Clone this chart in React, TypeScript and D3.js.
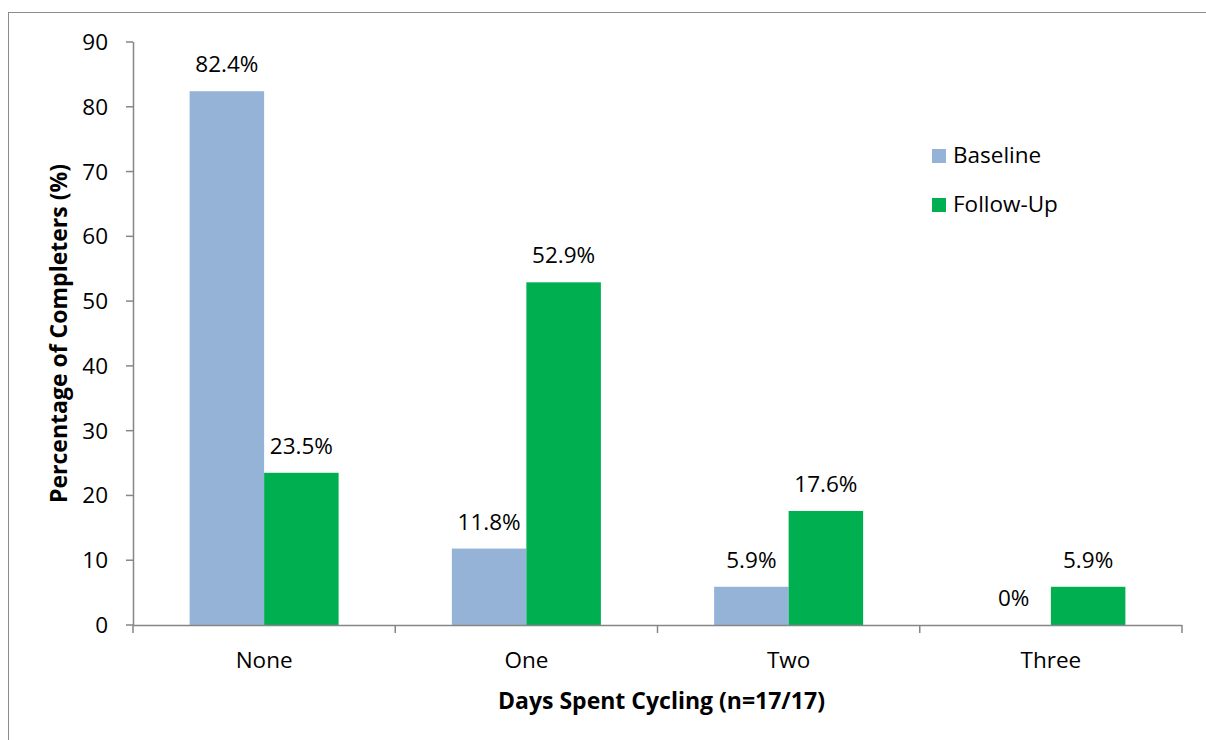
import { useEffect, useRef } from 'react'
import * as d3 from 'd3'

const categories = ['None', 'One', 'Two', 'Three']
const seriesNames = ['Baseline', 'Follow-Up']
const baselineValues = [82.4, 11.8, 5.9, 0]
const followUpValues = [23.5, 52.9, 17.6, 5.9]
const baselineLabels = ['82.4%', '11.8%', '5.9%', '0%']
const followUpLabels = ['23.5%', '52.9%', '17.6%', '5.9%']
const yTicks = [0, 10, 20, 30, 40, 50, 60, 70, 80, 90]

const colors = ['#95B3D7', '#00B050']
const FONT = '"Open Sans", sans-serif'
const FS = 22.5

export default function App() {
  const svgRef = useRef<SVGSVGElement>(null)

  useEffect(() => {
    if (!svgRef.current) return
    const width = 1206
    const height = 740
    const left = 133, right = 1182, top = 42, bottom = 625

    const svg = d3.select(svgRef.current)
    svg.selectAll('*').remove()
    svg.attr('width', width).attr('height', height)

    // outer chart border (runs off right/bottom edges)
    svg.append('rect')
      .attr('x', 8.5).attr('y', 12.5)
      .attr('width', width).attr('height', height)
      .attr('fill', '#fff').attr('stroke', '#8c8c8c').attr('stroke-width', 1)

    const x = d3.scaleBand<string>().domain(categories).range([left, right]).padding(0)
    const xs = d3.scaleBand<string>().domain(seriesNames).range([0, x.bandwidth()])
      .paddingInner(0).paddingOuter(0.76)
    const y = d3.scaleLinear().domain([0, 90]).range([bottom, top])

    const series = [
      { name: seriesNames[0], values: baselineValues, labels: baselineLabels },
      { name: seriesNames[1], values: followUpValues, labels: followUpLabels },
    ]

    // bars + value labels
    series.forEach((s, si) => {
      const g = svg.append('g')
      categories.forEach((c, i) => {
        const bx = (x(c) ?? 0) + (xs(s.name) ?? 0)
        g.append('rect')
          .attr('x', bx).attr('y', y(s.values[i]))
          .attr('width', xs.bandwidth()).attr('height', bottom - y(s.values[i]))
          .attr('fill', colors[si])
        g.append('text')
          .attr('x', bx + xs.bandwidth() / 2)
          .attr('y', y(s.values[i]) - 19)
          .attr('text-anchor', 'middle')
          .attr('font-family', FONT).attr('font-size', FS)
          .attr('fill', '#000')
          .text(s.labels[i])
      })
    })

    const axisColor = '#868686'

    // y axis
    const yAxis = svg.append('g')
    yAxis.append('line')
      .attr('x1', left + 0.5).attr('x2', left + 0.5)
      .attr('y1', top).attr('y2', bottom)
      .attr('stroke', axisColor).attr('stroke-width', 1.5)
    yTicks.forEach(t => {
      yAxis.append('line')
        .attr('x1', left - 7).attr('x2', left)
        .attr('y1', y(t)).attr('y2', y(t))
        .attr('stroke', axisColor).attr('stroke-width', 1.5)
      yAxis.append('text')
        .attr('x', 108).attr('y', y(t) + 8)
        .attr('text-anchor', 'end')
        .attr('font-family', FONT).attr('font-size', FS)
        .text(t)
    })

    // x axis
    const xAxis = svg.append('g')
    xAxis.append('line')
      .attr('x1', left).attr('x2', right)
      .attr('y1', bottom + 0.5).attr('y2', bottom + 0.5)
      .attr('stroke', axisColor).attr('stroke-width', 1.5)
    const boundaries = categories.map(c => x(c) ?? 0).concat([right])
    boundaries.forEach(b => {
      xAxis.append('line')
        .attr('x1', b).attr('x2', b)
        .attr('y1', bottom).attr('y2', bottom + 8)
        .attr('stroke', axisColor).attr('stroke-width', 1.5)
    })
    categories.forEach(c => {
      xAxis.append('text')
        .attr('x', (x(c) ?? 0) + x.bandwidth() / 2)
        .attr('y', 668)
        .attr('text-anchor', 'middle')
        .attr('font-family', FONT).attr('font-size', FS)
        .text(c)
    })

    // axis titles
    svg.append('text')
      .attr('x', 661.5).attr('y', 709)
      .attr('text-anchor', 'middle')
      .attr('font-family', FONT).attr('font-size', 23).attr('font-weight', 700)
      .text('Days Spent Cycling (n=17/17)')
    svg.append('text')
      .attr('transform', `translate(67,${(top + bottom) / 2}) rotate(-90)`)
      .attr('text-anchor', 'middle')
      .attr('font-family', FONT).attr('font-size', 23).attr('font-weight', 700)
      .text('Percentage of Completers (%)')

    // legend
    const legend = svg.append('g').attr('transform', 'translate(932,149)')
    seriesNames.forEach((n, i) => {
      legend.append('rect')
        .attr('x', 0).attr('y', i * 49)
        .attr('width', 14).attr('height', 14)
        .attr('fill', colors[i])
      legend.append('text')
        .attr('x', 21).attr('y', i * 49 + 14)
        .attr('font-family', FONT).attr('font-size', FS)
        .text(n)
    })
  }, [])

  return (
    <div style={{ position: 'absolute', left: 0, top: 0 }}>
      <svg ref={svgRef} style={{ display: 'block' }} />
    </div>
  )
}
